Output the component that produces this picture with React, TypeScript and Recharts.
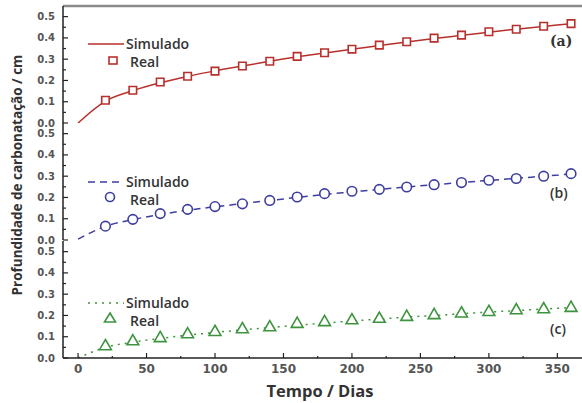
import { ComposedChart, Line, ReferenceLine, Scatter, XAxis, YAxis, ZAxis } from "recharts";

const days = [0, 20, 40, 60, 80, 100, 120, 140, 160, 180, 200, 220, 240, 260, 280, 300, 320, 340, 360];

// simulated curves (one value per day)
const simA = [0, 0.103, 0.152, 0.189, 0.219, 0.245, 0.268, 0.29, 0.311, 0.329, 0.347, 0.364, 0.381, 0.397, 0.412, 0.427, 0.441, 0.454, 0.467];
const simB = [0.004, 0.064, 0.096, 0.12, 0.14, 0.156, 0.171, 0.186, 0.2, 0.214, 0.226, 0.238, 0.249, 0.26, 0.27, 0.28, 0.29, 0.3, 0.31];
const simC = [0, 0.05, 0.074, 0.092, 0.107, 0.12, 0.132, 0.143, 0.154, 0.164, 0.174, 0.183, 0.192, 0.2, 0.208, 0.216, 0.223, 0.23, 0.237];

// measured values, days 20..360
const realA = [0.107, 0.154, 0.193, 0.22, 0.244, 0.268, 0.29, 0.313, 0.33, 0.347, 0.366, 0.382, 0.399, 0.413, 0.429, 0.441, 0.455, 0.467];
const realB = [0.065, 0.097, 0.124, 0.144, 0.157, 0.17, 0.186, 0.202, 0.218, 0.229, 0.238, 0.249, 0.26, 0.27, 0.281, 0.289, 0.3, 0.312];
const realC = [0.055, 0.078, 0.093, 0.111, 0.122, 0.135, 0.144, 0.16, 0.168, 0.177, 0.184, 0.193, 0.201, 0.209, 0.216, 0.224, 0.229, 0.235];

const yTicks = [0, 0.05, 0.1, 0.15, 0.2, 0.25, 0.3, 0.35, 0.4, 0.45, 0.5];
const xTicks = [0, 25, 50, 75, 100, 125, 150, 175, 200, 225, 250, 275, 300, 325, 350];

const TICK_FONT = "'DejaVu Sans', sans-serif";
const TEXT_FONT = "'Open Sans', sans-serif";
const AXIS = "#222";
const Y_GAP = 8;
const X_GAP = 6;

const YTick = ({ x, y, payload }: any) => {
  const v = payload.value;
  const major = Math.round(v * 100) % 10 === 0;
  const ax = x + Y_GAP;
  return (
    <g>
      <line x1={ax} x2={ax + (major ? 5 : 3)} y1={y} y2={y} stroke={AXIS} strokeWidth={1.2} />
      {major && (
        <text x={x} y={y} dy="0.35em" textAnchor="end" fontFamily={TICK_FONT} fontWeight="bold" fontSize={10} fill="#555">
          {v.toFixed(1)}
        </text>
      )}
    </g>
  );
};

const XTick = ({ x, y, payload }: any) => {
  const v = payload.value;
  const major = v % 50 === 0;
  const ay = y - X_GAP;
  return (
    <g>
      <line x1={x} x2={x} y1={ay} y2={ay - (major ? 5 : 2)} stroke={AXIS} strokeWidth={1.2} />
      {major && (
        <text x={x} y={y} dy="0.71em" textAnchor="middle" fontFamily={TICK_FONT} fontWeight="bold" fontSize={12} fill="#555">
          {v}
        </text>
      )}
    </g>
  );
};

function Panel({ top, sim, real, color, dash, shape, size, showX, frame }: any) {
  const lineData = days.map((d, i) => ({ day: d, sim: sim[i] }));
  const realData = days.slice(1).map((d, i) => ({ day: d, real: real[i] }));
  const h = 117 + (showX ? 24 : 0);
  return (
    <div style={{ position: "absolute", left: 0, top }}>
      <ComposedChart width={582} height={h} data={lineData} margin={{ top: 0, right: 0, bottom: 0, left: 0 }}>
        <XAxis
          type="number"
          dataKey="day"
          domain={[-11, 368]}
          ticks={xTicks}
          hide={!showX}
          height={24}
          interval={0}
          tickSize={0}
          tickMargin={X_GAP}
          tick={<XTick />}
          axisLine={{ stroke: AXIS, strokeWidth: 1.5 }}
          allowDataOverflow
        />
        <YAxis
          type="number"
          domain={[0, 0.55]}
          ticks={yTicks}
          width={63}
          interval={0}
          tickSize={0}
          tickMargin={Y_GAP}
          tick={<YTick />}
          axisLine={{ stroke: AXIS, strokeWidth: 1.5 }}
          allowDataOverflow
        />
        <ZAxis type="number" range={[size, size]} />
        {frame && <ReferenceLine y={0.55} stroke="#8a8a8a" strokeWidth={2.5} />}
        <Line
          type="monotone"
          dataKey="sim"
          stroke={color}
          strokeWidth={1.5}
          strokeDasharray={dash}
          dot={false}
          activeDot={false}
          isAnimationActive={false}
        />
        <Scatter
          data={realData}
          dataKey="real"
          shape={shape}
          fill="#fff"
          stroke={color}
          strokeWidth={1.6}
          isAnimationActive={false}
        />
      </ComposedChart>
    </div>
  );
}

const legendText: any = {
  position: "absolute",
  fontFamily: TEXT_FONT,
  fontWeight: 600,
  fontSize: 14,
  color: "#333",
  lineHeight: "16px",
  whiteSpace: "nowrap",
};

function LegendBox({ left, top, color, dash, shape }: any) {
  const marker =
    shape === "square" ? (
      <rect x={21} y={20} width={8} height={7} fill="#fff" stroke={color} strokeWidth={1.6} />
    ) : shape === "circle" ? (
      <circle cx={22} cy={22} r={4.5} fill="#fff" stroke={color} strokeWidth={1.6} />
    ) : (
      <polygon points="22,17 27.5,26 16.5,26" fill="#fff" stroke={color} strokeWidth={1.6} />
    );
  return (
    <div style={{ position: "absolute", left, top, width: 130, height: 36 }}>
      <svg width={40} height={34} style={{ position: "absolute", left: 0, top: 0 }}>
        <line x1={0} x2={36} y1={7} y2={7} stroke={color} strokeWidth={1.5} strokeDasharray={dash} />
        {marker}
      </svg>
      <div style={{ ...legendText, left: 38, top: -1 }}>Simulado</div>
      <div style={{ ...legendText, left: 42, top: 17 }}>Real</div>
    </div>
  );
}

const tagStyle: any = { position: "absolute", left: 550, fontSize: 14, fontWeight: "bold", color: "#333" };

export default function App() {
  return (
    <div style={{ position: "absolute", left: 0, top: 0, width: 582, height: 403, background: "#fff", overflow: "hidden" }}>
      <style>{".recharts-surface{overflow:visible}"}</style>
      <Panel top={6} sim={simA} real={realA} color="#b8302c" shape="square" size={56} frame />
      <Panel top={123} sim={simB} real={realB} color="#3e3ea0" dash="7 5" shape="circle" size={72} />
      <Panel top={241} sim={simC} real={realC} color="#3e943e" dash="2 5" shape="triangle" size={60} showX />

      <LegendBox left={88} top={37} color="#b8302c" shape="square" />
      <LegendBox left={88} top={175} color="#3e3ea0" dash="7 5" shape="circle" />
      <LegendBox left={88} top={296} color="#3e943e" dash="2 5" shape="triangle" />

      <div style={{ ...tagStyle, top: 33, fontFamily: "'DejaVu Serif', serif" }}>(a)</div>
      <div style={{ ...tagStyle, top: 183, fontFamily: TEXT_FONT, fontWeight: 600 }}>(b)</div>
      <div style={{ ...tagStyle, top: 319, fontFamily: TEXT_FONT, fontWeight: 600 }}>(c)</div>

      <div
        style={{
          position: "absolute",
          left: 17 - 150,
          top: 175 - 9,
          width: 300,
          textAlign: "center",
          transform: "rotate(-90deg)",
          fontFamily: TEXT_FONT,
          fontWeight: "bold",
          fontSize: 13.5,
          lineHeight: "18px",
          color: "#333",
        }}
      >
        Profundidade de carbonatação / cm
      </div>
      <div
        style={{
          position: "absolute",
          left: 220,
          top: 380,
          width: 200,
          textAlign: "center",
          fontFamily: TEXT_FONT,
          fontWeight: "bold",
          fontSize: 16.5,
          lineHeight: "22px",
          color: "#333",
        }}
      >
        Tempo / Dias
      </div>
    </div>
  );
}
